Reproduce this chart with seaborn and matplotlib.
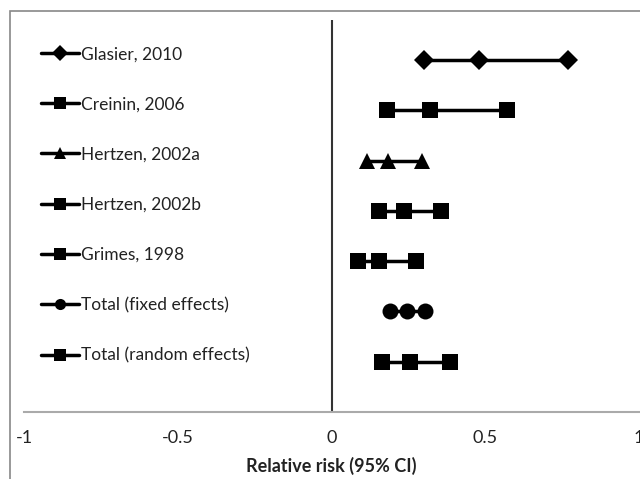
import pandas as pd
import matplotlib.pyplot as plt
import seaborn as sns
from matplotlib.lines import Line2D
from matplotlib.patches import Rectangle

# Forest plot data
studies = ['Glasier, 2010', 'Creinin, 2006', 'Hertzen, 2002a', 'Hertzen, 2002b',
           'Grimes, 1998', 'Total (fixed effects)', 'Total (random effects)']
lower = [0.30, 0.18, 0.115, 0.155, 0.087, 0.19, 0.165]
point = [0.48, 0.32, 0.185, 0.235, 0.155, 0.245, 0.255]
upper = [0.77, 0.57, 0.295, 0.355, 0.275, 0.305, 0.385]
marker_shapes = ['D', 's', '^', 's', 's', 'o', 's']
xticks = [-1, -0.5, 0, 0.5, 1]
xtick_labels = ['-1', '-0.5', '0', '0.5', '1']

# Build long table: one row per plotted point
rows = []
for i, s in enumerate(studies):
    ypos = len(studies) - i
    for v in (lower[i], point[i], upper[i]):
        rows.append({'study': s, 'value': v, 'row': ypos})
df = pd.DataFrame(rows)

sns.set_style('white')
plt.rcParams['font.family'] = ['Lato', 'DejaVu Sans']

fig = plt.figure(figsize=(6.4, 4.79), dpi=100)
ax = fig.add_axes([24 / 640, 1 - 412 / 479, 615 / 640, 392 / 479])

sns.lineplot(data=df, x='value', y='row', hue='study', style='study',
             palette={s: 'black' for s in studies},
             markers=dict(zip(studies, marker_shapes)), dashes=False,
             estimator=None, sort=True, linewidth=2.5, markersize=11.5,
             markeredgewidth=0, legend=False, ax=ax)
# diamonds look a bit smaller in the original
for ln in ax.lines:
    if ln.get_marker() == 'D':
        ln.set_markersize(10)

ax.axvline(0, color='#333333', lw=1.5, zorder=0)
ax.set_xlim(-1, 1)
ax.set_ylim(0, 7.8)
ax.set_yticks([])
ax.set_ylabel('')
ax.set_xticks(xticks)
ax.set_xticklabels(xtick_labels)
ax.tick_params(axis='x', length=0, pad=13, labelsize=13, labelcolor='#222222')
ax.set_xlabel('Relative risk (95% CI)', fontsize=13, fontweight='bold',
              color='#222222', labelpad=8)
for side in ['top', 'right', 'left']:
    ax.spines[side].set_visible(False)
ax.spines['bottom'].set_color('#aaaaaa')
ax.spines['bottom'].set_linewidth(1.5)

# Legend in the left half
handles = [Line2D([], [], color='black', lw=2.5, marker=m, markersize=8,
                  markeredgewidth=0) for m in marker_shapes]
leg = ax.legend(handles, studies, loc='upper left', bbox_to_anchor=(0.017, 0.951),
                frameon=False, fontsize=12.5, handlelength=2.15, handletextpad=0.15,
                labelspacing=1.97, borderaxespad=0)
for t in leg.get_texts():
    t.set_color('#222222')

# Chart area border (cropped on the right and bottom)
fig.add_artist(Rectangle((10 / 640, -0.5), 2, 1 - 11 / 479 + 0.5,
                         transform=fig.transFigure, fill=False,
                         edgecolor='#888888', lw=1.2))

fig.savefig('out.png', dpi=100)
